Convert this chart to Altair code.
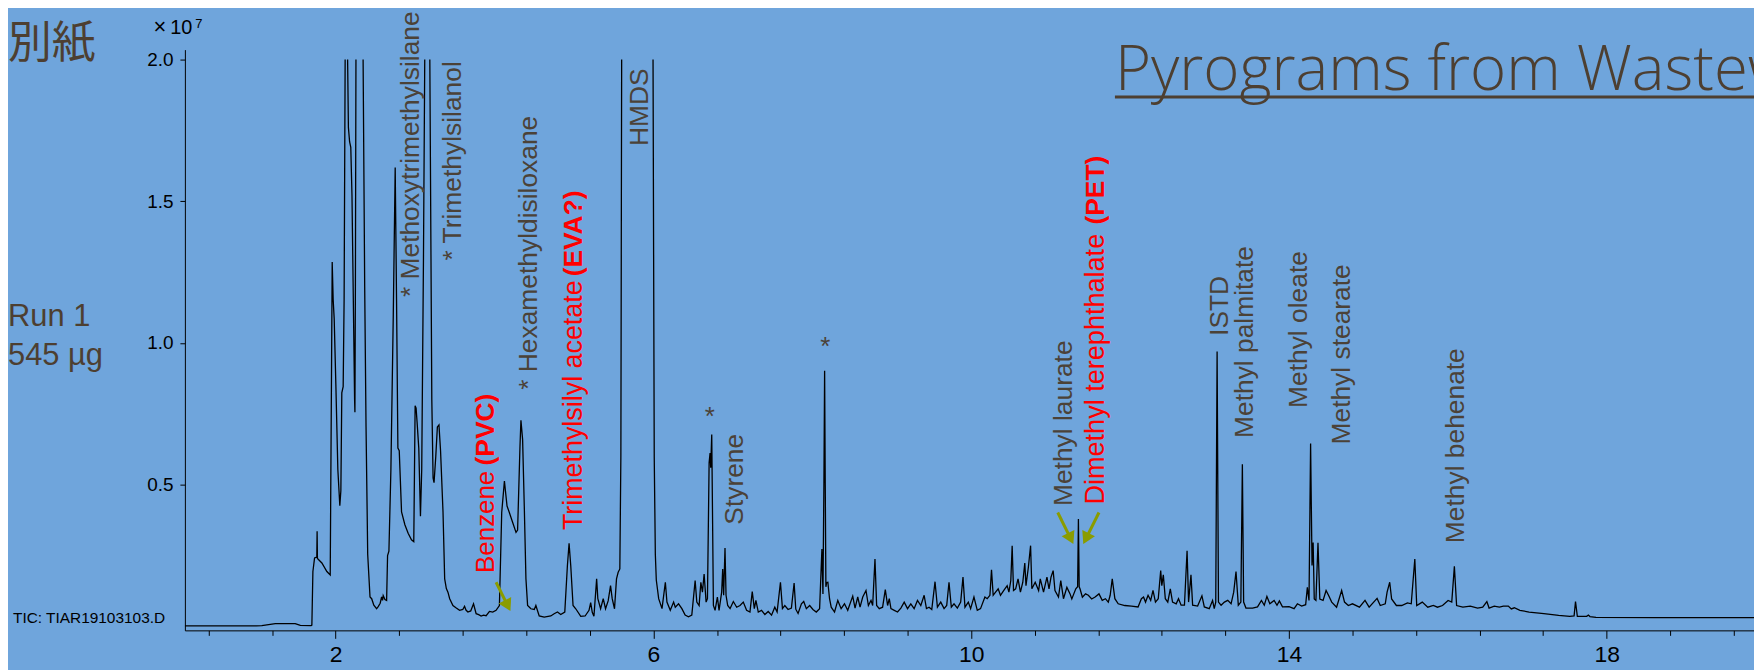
import altair as alt
import pandas as pd

# ---------------- data ----------------
# retention time (min) and TIC abundance (x 10^7); 2.0 = off-scale (clipped) region
rt_min = [
    0.10, 1.00, 1.07, 1.24, 1.49, 1.555, 1.69, 1.70, 1.713, 1.734, 1.762, 1.766, 1.770, 1.826, 1.889, 1.931,
    1.943, 1.956, 1.968, 1.981, 2.002, 2.027, 2.052, 2.065, 2.077, 2.094, 2.106, 2.119, 2.150, 2.160, 2.175,
    2.190, 2.205, 2.238, 2.242, 2.248, 2.255, 2.345, 2.365, 2.382, 2.403, 2.432, 2.453, 2.48, 2.515, 2.535,
    2.56, 2.578, 2.59, 2.598, 2.62, 2.641, 2.653, 2.670, 2.695, 2.725, 2.749, 2.766, 2.783, 2.800, 2.829,
    2.871, 2.912, 2.954, 2.983, 3.000, 3.012, 3.025, 3.046, 3.067, 3.083, 3.105, 3.121, 3.185, 3.210, 3.226,
    3.238, 3.260, 3.280, 3.300, 3.320, 3.351, 3.372, 3.393, 3.413, 3.435, 3.476, 3.518, 3.56, 3.60, 3.622,
    3.64, 3.664, 3.70, 3.735, 3.768, 3.80, 3.831, 3.86, 3.894, 3.936, 3.977, 4.019, 4.061, 4.090, 4.124,
    4.140, 4.157, 4.186, 4.228, 4.270, 4.290, 4.320, 4.332, 4.353, 4.374, 4.395, 4.416, 4.457, 4.50, 4.520,
    4.562, 4.625, 4.708, 4.750, 4.792, 4.833, 4.884, 4.917, 4.938, 4.959, 4.988, 5.022, 5.085, 5.14, 5.189,
    5.210, 5.230, 5.251, 5.285, 5.300, 5.335, 5.368, 5.397, 5.43, 5.460, 5.481, 5.510, 5.535, 5.556, 5.577,
    5.590, 5.600, 5.995, 6.010, 6.024, 6.036, 6.066, 6.108, 6.150, 6.170, 6.212, 6.254, 6.275, 6.316, 6.358,
    6.399, 6.441, 6.483, 6.525, 6.546, 6.575, 6.597, 6.617, 6.638, 6.663, 6.680, 6.701, 6.713, 6.721, 6.734,
    6.755, 6.776, 6.805, 6.826, 6.859, 6.872, 6.884, 6.901, 6.914, 6.935, 6.965, 7.006, 7.048, 7.090, 7.131,
    7.173, 7.215, 7.244, 7.270, 7.290, 7.320, 7.361, 7.403, 7.445, 7.487, 7.528, 7.557, 7.599, 7.624, 7.654,
    7.695, 7.737, 7.771, 7.792, 7.821, 7.863, 7.892, 7.925, 7.967, 8.008, 8.050, 8.092, 8.121, 8.134, 8.146,
    8.155, 8.163, 8.171, 8.180, 8.196, 8.217, 8.238, 8.280, 8.321, 8.363, 8.405, 8.446, 8.509, 8.538, 8.572,
    8.601, 8.635, 8.676, 8.706, 8.739, 8.760, 8.789, 8.810, 8.843, 8.885, 8.919, 8.948, 8.969, 8.990, 9.032,
    9.073, 9.115, 9.157, 9.199, 9.240, 9.282, 9.324, 9.366, 9.408, 9.437, 9.470, 9.504, 9.545, 9.575, 9.617,
    9.659, 9.692, 9.721, 9.750, 9.784, 9.826, 9.868, 9.897, 9.922, 9.964, 9.993, 10.035, 10.077, 10.118,
    10.173, 10.202, 10.236, 10.256, 10.277, 10.307, 10.340, 10.369, 10.411, 10.453, 10.475, 10.499, 10.516,
    10.533, 10.560, 10.590, 10.620, 10.650, 10.675, 10.690, 10.720, 10.748, 10.764, 10.806, 10.849, 10.870,
    10.911, 10.954, 10.980, 11.005, 11.032, 11.055, 11.099, 11.128, 11.162, 11.205, 11.245, 11.267, 11.317,
    11.340, 11.350, 11.360, 11.371, 11.400, 11.440, 11.475, 11.517, 11.560, 11.609, 11.650, 11.690, 11.726,
    11.750, 11.776, 11.809, 11.851, 11.934, 12.018, 12.101, 12.143, 12.170, 12.195, 12.227, 12.260, 12.289,
    12.320, 12.355, 12.386, 12.400, 12.419, 12.444, 12.475, 12.507, 12.535, 12.581, 12.610, 12.643, 12.685,
    12.718, 12.737, 12.767, 12.788, 12.851, 12.905, 12.935, 12.997, 13.039, 13.060, 13.079, 13.096, 13.113,
    13.146, 13.188, 13.230, 13.272, 13.305, 13.334, 13.363, 13.395, 13.414, 13.430, 13.459, 13.543, 13.605,
    13.654, 13.690, 13.723, 13.760, 13.814, 13.850, 13.880, 13.919, 14.002, 14.065, 14.107, 14.160, 14.211,
    14.232, 14.253, 14.273, 14.291, 14.305, 14.319, 14.340, 14.366, 14.389, 14.430, 14.468, 14.500, 14.539,
    14.600, 14.664, 14.700, 14.748, 14.800, 14.888, 14.958, 15.010, 15.110, 15.150, 15.213, 15.236, 15.269,
    15.293, 15.353, 15.420, 15.492, 15.540, 15.585, 15.609, 15.679, 15.748, 15.818, 15.870, 15.934, 16.004,
    16.050, 16.083, 16.111, 16.190, 16.283, 16.376, 16.440, 16.492, 16.520, 16.585, 16.650, 16.700, 16.762,
    16.800, 16.838, 16.908, 17.024, 17.210, 17.396, 17.536, 17.590, 17.608, 17.631, 17.748, 17.770, 17.790,
    17.865, 18.609, 19.860,
]
tic_1e7 = [
    0.002, 0.002, 0.003, 0.010, 0.010, 0.004, 0.003, 0.005, 0.194, 0.242, 0.245, 0.336, 0.240, 0.224, 0.194, 0.182,
    0.704, 1.286, 1.154, 1.086, 0.854, 0.554, 0.426, 0.479, 0.824, 0.846, 1.154, 2.0, 2.0, 1.76, 1.71,
    1.69, 1.52, 0.80, 0.756, 1.20, 2.0, 2.0, 1.20, 0.704, 0.254, 0.104, 0.098, 0.075, 0.0625, 0.070,
    0.082, 0.104, 0.092, 0.109, 0.095, 0.092, 0.25, 0.266, 0.554, 1.10, 1.619, 1.154, 0.629, 0.620, 0.404,
    0.359, 0.329, 0.306, 0.299, 0.779, 0.770, 0.719, 0.629, 0.389, 0.554, 1.30, 2.0, 2.0, 0.80, 0.524,
    0.507, 0.60, 0.704, 0.711, 0.62, 0.404, 0.168, 0.134, 0.121, 0.098, 0.074, 0.065, 0.057, 0.060, 0.071,
    0.058, 0.051, 0.055, 0.080, 0.045, 0.042, 0.037, 0.040, 0.038, 0.053, 0.051, 0.057, 0.074, 0.402, 0.513,
    0.47, 0.425, 0.402, 0.367, 0.332, 0.34, 0.636, 0.727, 0.66, 0.425, 0.168, 0.074, 0.0625, 0.060, 0.074,
    0.037, 0.033, 0.037, 0.045, 0.051, 0.042, 0.051, 0.215, 0.293, 0.215, 0.074, 0.0625, 0.036, 0.037, 0.057,
    0.084, 0.050, 0.036, 0.168, 0.098, 0.0625, 0.098, 0.0625, 0.090, 0.144, 0.098, 0.0625, 0.168, 0.191, 0.203,
    0.60, 2.0, 2.0, 0.60, 0.254, 0.164, 0.098, 0.063, 0.156, 0.086, 0.057, 0.086, 0.068, 0.080, 0.063,
    0.040, 0.034, 0.040, 0.162, 0.086, 0.074, 0.156, 0.121, 0.185, 0.086, 0.098, 0.577, 0.612, 0.560, 0.677,
    0.074, 0.057, 0.104, 0.057, 0.121, 0.203, 0.110, 0.277, 0.110, 0.074, 0.063, 0.088, 0.068, 0.074, 0.086,
    0.057, 0.051, 0.123, 0.063, 0.092, 0.051, 0.057, 0.042, 0.053, 0.040, 0.068, 0.051, 0.156, 0.063, 0.074,
    0.060, 0.065, 0.153, 0.061, 0.046, 0.080, 0.088, 0.063, 0.074, 0.060, 0.051, 0.063, 0.273, 0.115, 0.50,
    0.902, 0.50, 0.140, 0.155, 0.156, 0.098, 0.068, 0.051, 0.092, 0.063, 0.080, 0.057, 0.107, 0.065, 0.104,
    0.068, 0.104, 0.127, 0.074, 0.092, 0.074, 0.238, 0.074, 0.063, 0.068, 0.130, 0.074, 0.098, 0.063, 0.057,
    0.051, 0.065, 0.086, 0.063, 0.080, 0.063, 0.092, 0.074, 0.110, 0.063, 0.068, 0.060, 0.158, 0.068, 0.086,
    0.063, 0.074, 0.156, 0.068, 0.080, 0.065, 0.086, 0.174, 0.068, 0.086, 0.063, 0.104, 0.057, 0.063,
    0.104, 0.098, 0.110, 0.200, 0.110, 0.121, 0.133, 0.110, 0.127, 0.144, 0.121, 0.162, 0.285,
    0.127, 0.133, 0.168, 0.121, 0.156, 0.224, 0.144, 0.209, 0.285, 0.133, 0.156, 0.127, 0.168,
    0.121, 0.174, 0.133, 0.174, 0.197, 0.127, 0.104, 0.162, 0.098, 0.138, 0.115, 0.097, 0.133,
    0.140, 0.379, 0.140, 0.132, 0.103, 0.115, 0.110, 0.097, 0.104, 0.115, 0.092, 0.098, 0.086,
    0.110, 0.168, 0.098, 0.080, 0.074, 0.072, 0.069, 0.098, 0.104, 0.086, 0.110, 0.092, 0.127,
    0.086, 0.098, 0.197, 0.144, 0.182, 0.098, 0.086, 0.133, 0.086, 0.080, 0.098, 0.075, 0.075,
    0.267, 0.086, 0.182, 0.075, 0.072, 0.108, 0.069, 0.063, 0.092, 0.063, 0.086, 0.970, 0.086,
    0.075, 0.086, 0.092, 0.080, 0.121, 0.194, 0.075, 0.086, 0.572, 0.086, 0.065, 0.065, 0.069,
    0.092, 0.075, 0.106, 0.080, 0.092, 0.075, 0.090, 0.069, 0.070, 0.063, 0.080, 0.072, 0.077,
    0.138, 0.092, 0.645, 0.215, 0.296, 0.097, 0.092, 0.295, 0.097, 0.092, 0.127, 0.109, 0.086,
    0.068, 0.127, 0.086, 0.074, 0.080, 0.068, 0.092, 0.068, 0.099, 0.074, 0.080, 0.121, 0.156,
    0.097, 0.074, 0.074, 0.083, 0.080, 0.238, 0.074, 0.086, 0.068, 0.074, 0.068, 0.074, 0.092,
    0.086, 0.212, 0.074, 0.068, 0.072, 0.065, 0.068, 0.088, 0.065, 0.072, 0.068, 0.072, 0.072,
    0.062, 0.066, 0.057, 0.051, 0.045, 0.039, 0.036, 0.037, 0.088, 0.036, 0.036, 0.040, 0.035,
    0.032, 0.031, 0.031,
]

# peak annotation texts
gray_labels = ["* Methoxytrimethylsilane", "* Trimethylsilanol", "* Hexamethyldisiloxane", "HMDS",
               "Styrene", "Methyl laurate", "ISTD", "Methyl palmitate", "Methyl oleate",
               "Methyl stearate", "Methyl behenate"]
red_labels = ["Benzene ", "Trimethylsilyl acetate ", "Dimethyl terephthalate "]
red_bold_labels = ["(PVC)", "(EVA?)", "(PET)"]
x_tick_labels = [2, 4, 6, 8, 10, 12, 14, 16, 18]
y_tick_labels = [0.5, 1.0, 1.5, 2.0]

# ---------------- styling / positions ----------------
BG = "#6fa5dc"
GRAY = "#4b4238"
BROWN = "#4d3f31"
RED = "#ff0000"
OLIVE = "#8a9c00"
FONT = "Liberation Sans"

gray_pos = [(3.046, 1.162), (3.576, 1.291), (4.535, 0.835), (5.929, 1.695), (7.131, 0.359),
            (11.274, 0.425), (13.229, 1.025), (13.548, 0.665), (14.227, 0.771), (14.766, 0.642),
            (16.199, 0.294)]
red_pos = [(3.999, 0.189, 26), (5.099, 0.340, 27), (11.675, 0.430, 27.2)]
red_bold_pos = [(3.999, 0.568), (5.099, 1.235), (11.675, 1.418)]
star_pos = [(6.709, 0.712), (8.163, 0.958)]
arrows = [  # shaft start, head centre, head angle
    (4.019, 0.156, 4.165, 0.0734, 333),
    (11.09, 0.402, 11.253, 0.310, 334),
    (11.609, 0.402, 11.445, 0.310, 26),
]

# segments: break the trace where it is off-scale (consecutive 2.0 points)
seg, s = [], 0
for i, v in enumerate(tic_1e7):
    if i > 0 and v >= 2.0 and tic_1e7[i - 1] >= 2.0:
        s += 1
    seg.append(s)
trace = pd.DataFrame({"rt": rt_min, "tic": tic_1e7, "seg": seg})

minor_ticks = [round(0.4 * k, 1) for k in range(1, 50)]
major_test = "abs(datum.value - round(datum.value / 2) * 2) < 0.01 && datum.value >= %d" % x_tick_labels[0]

W, H = 1576.3, 583.4
xscale = alt.Scale(domain=[0.1015, 19.855], nice=False, zero=False)
yscale = alt.Scale(domain=[-0.0137, 2.0348], nice=False, zero=False)

x_axis = alt.Axis(
    values=minor_ticks,
    labelExpr="(%s) ? format(datum.value, 'd') : ''" % major_test,
    tickSize={"condition": {"test": major_test, "value": 8}, "value": 5},
    labelFontSize=23, labelFont=FONT, labelColor="black", labelPadding=5.5,
    domainColor="black", tickColor="black", domainWidth=1, tickWidth=1,
    grid=False, title=None, labelOverlap=False, labelFlush=False,
)
y_axis = alt.Axis(
    values=y_tick_labels, format=".1f", labelFontSize=19, labelFont=FONT, labelColor="black",
    tickSize=5, labelPadding=7, domainColor="black", tickColor="black", domainWidth=1,
    tickWidth=1, grid=False, title=None,
)

line = alt.Chart(trace).mark_line(color="black", strokeWidth=1.3, clip=True).encode(
    x=alt.X("rt:Q", scale=xscale, axis=x_axis),
    y=alt.Y("tic:Q", scale=yscale, axis=y_axis),
    detail="seg:N",
)

def pos_x(field):
    return alt.X(field, type="quantitative", scale=xscale)

def pos_y(field):
    return alt.Y(field, type="quantitative", scale=yscale)

gray_df = pd.DataFrame({"t": [p[0] for p in gray_pos], "v": [p[1] for p in gray_pos], "txt": gray_labels})
gray_text = alt.Chart(gray_df).mark_text(
    angle=270, align="left", baseline="alphabetic", font=FONT, fontSize=26.5, color=GRAY
).encode(x=pos_x("t"), y=pos_y("v"), text="txt:N")

red_df = pd.DataFrame({"t": [p[0] for p in red_pos], "v": [p[1] for p in red_pos],
                       "fs": [p[2] for p in red_pos], "txt": red_labels})
red_text = alt.Chart(red_df).mark_text(
    angle=270, align="left", baseline="alphabetic", font=FONT, color=RED
).encode(x=pos_x("t"), y=pos_y("v"), text="txt:N", size=alt.Size("fs:Q", scale=None))

redb_df = pd.DataFrame({"t": [p[0] for p in red_bold_pos], "v": [p[1] for p in red_bold_pos],
                        "txt": red_bold_labels})
redb_text = alt.Chart(redb_df).mark_text(
    angle=270, align="left", baseline="alphabetic", font=FONT, fontSize=26.5, fontWeight="bold", color=RED
).encode(x=pos_x("t"), y=pos_y("v"), text="txt:N")

star_df = pd.DataFrame({"t": [p[0] for p in star_pos], "v": [p[1] for p in star_pos]})
stars = alt.Chart(star_df).mark_text(
    text="*", align="center", baseline="alphabetic", font=FONT, fontSize=26, color=GRAY
).encode(x=pos_x("t"), y=pos_y("v"))

arr_df = pd.DataFrame({"x0": [a[0] for a in arrows], "y0": [a[1] for a in arrows],
                       "x1": [a[2] for a in arrows], "y1": [a[3] for a in arrows],
                       "ang": [a[4] for a in arrows]})
shafts = alt.Chart(arr_df).mark_rule(color=OLIVE, strokeWidth=3).encode(
    x=pos_x("x0"), y=pos_y("y0"), x2="x1:Q", y2="y1:Q")
heads = alt.Chart(arr_df).mark_point(shape="triangle-down", filled=True, opacity=1, color=OLIVE,
                                     size=200, strokeWidth=0).encode(
    x=pos_x("x1"), y=pos_y("y1"), angle=alt.Angle("ang:Q", scale=None))

one = pd.DataFrame({"k": [0]})

def free_text(txt, px, py, **kw):
    return alt.Chart(one).mark_text(text=txt, align="left", baseline="alphabetic", **kw).encode(
        x=alt.value(px), y=alt.value(py))

title = free_text("Pyrograms from Wastewater", 934.3, 40.7, font="Open Sans", fontSize=62,
                  fontWeight=300, color=BROWN)
underline = alt.Chart(one).mark_rule(color=BROWN, strokeWidth=3).encode(
    x=alt.value(934.3), x2=alt.value(W), y=alt.value(47.7))
bessi = free_text("別紙", -177.7, 8.7, font="Noto Sans CJK JP", fontSize=44, color=BROWN)
run1 = free_text("Run 1", -177.7, 277.3, font=FONT, fontSize=31, color=BROWN)
mass = free_text("545 µg", -177.7, 317.1, font=FONT, fontSize=31, color=BROWN)
tic = free_text("TIC: TIAR19103103.D", -172.7, 576.5, font=FONT, fontSize=15.5, color="black")
times_sign = free_text("×", -31.5, -16, font=FONT, fontSize=22, color="black")
ten = free_text("10", -14.8, -16, font=FONT, fontSize=20, color="black")
expo = free_text("7", 10.3, -21.8, font=FONT, fontSize=13, color="black")

chart = alt.layer(
    line, gray_text, red_text, redb_text, stars, shafts, heads,
    title, underline, bessi, run1, mass, tic, times_sign, ten, expo,
).properties(
    width=W, height=H, background=BG,
    padding={"left": 177.7, "top": 40.3, "right": 0, "bottom": 38.3},
    autosize=alt.AutoSizeParams(type="none"),
).configure_view(stroke=None)

chart.save("out.html", embed_options={"renderer": "svg", "actions": False})
